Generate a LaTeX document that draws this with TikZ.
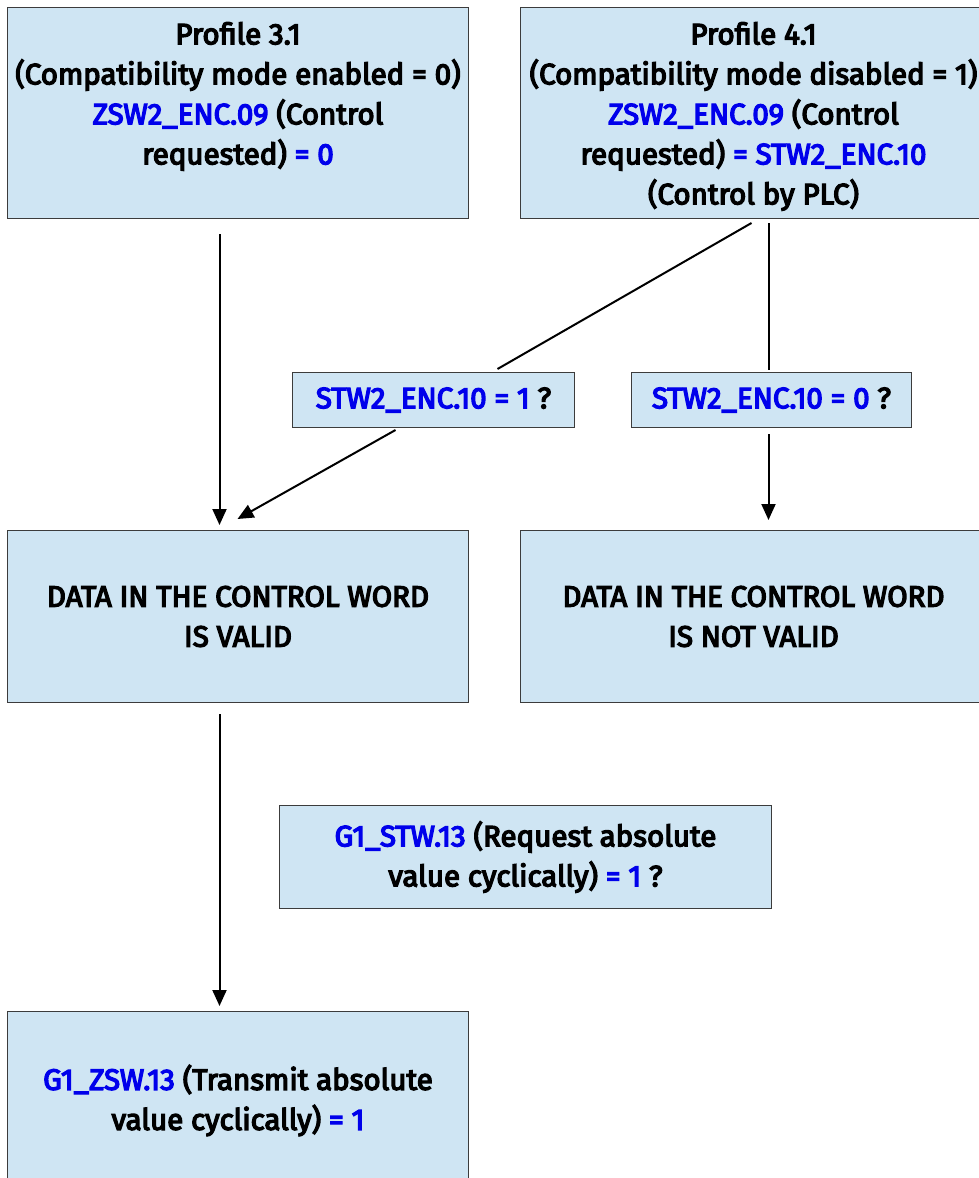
\documentclass[tikz,border=0pt]{standalone}
\usepackage{fontspec}
\setmainfont{Fira Sans}[FakeBold=4.5]
\usetikzlibrary{arrows.meta,calc}
\definecolor{boxfill}{RGB}{207,229,243}
\definecolor{boxline}{RGB}{60,60,60}
\definecolor{bluetxt}{RGB}{0,0,235}
\newcommand{\bl}[1]{\textcolor{bluetxt}{#1}}
\newcommand{\fs}{\fontsize{29.5}{40}\selectfont}
\begin{document}
\begin{tikzpicture}[x=1pt,y=-1pt,
  box/.style={draw=boxline, line width=1pt, fill=boxfill, inner sep=0pt, anchor=north west, align=center, font=\fs},
  txt/.style={align=center, font=\fs, inner sep=0pt, anchor=north},
  conn/.style={line width=2pt},
  arr/.style={conn, -{Triangle[width=14pt,length=16pt]}}]
\useasboundingbox[fill=white] (0,0) rectangle (978,1178);
% top boxes
\node[box, minimum width=461pt, minimum height=211pt] (A) at (7,7) {};
\node[txt] (At) at ([yshift=-15pt]A.north) {Profile 3.1\\(Compatibility mode enabled = 0)\\\bl{ZSW2\_ENC.09} (Control\\requested) \bl{= 0}};
\node[box, minimum width=466pt, minimum height=211pt] (B) at (520,7) {};
\node[txt] (Bt) at ([yshift=-15pt]B.north) {Profile 4.1\\(Compatibility mode disabled = 1)\\\bl{ZSW2\_ENC.09} (Control\\requested) \bl{= STW2\_ENC.10}\\(Control by PLC)};
% condition boxes
\node[box, minimum width=282pt, minimum height=55pt] (C) at (292,372) {\bl{STW2\_ENC.10 = 1} ?};
\node[box, minimum width=280pt, minimum height=55pt] (D) at (631,372) {\bl{STW2\_ENC.10 = 0} ?};
% data boxes
\node[box, minimum width=461pt, minimum height=172pt] (E) at (7,530) {DATA IN THE CONTROL WORD\\IS VALID};
\node[box, minimum width=466pt, minimum height=172pt] (F) at (520,530) {DATA IN THE CONTROL WORD\\IS NOT VALID};
% request box
\node[box, minimum width=492pt, minimum height=103pt] (G) at (279,805) {\bl{G1\_STW.13} (Request absolute\\value cyclically) \bl{= 1} ?};
% transmit box
\node[box, minimum width=461pt, minimum height=178pt] (H) at (7,1011) {\bl{G1\_ZSW.13} (Transmit absolute\\value cyclically) \bl{= 1}};
% connectors
\draw[arr] ([xshift=-18.5pt,yshift=-15pt]A.south) -- ([xshift=-18.5pt,yshift=5pt]E.north);
\draw[conn] ([xshift=-2pt,yshift=-4pt]B.south) -- ([xshift=64pt,yshift=3pt]C.north);
\draw[conn] ([xshift=15pt,yshift=-4pt]B.south) -- ([xshift=-3pt,yshift=2pt]D.north);
\draw[arr] ([xshift=-38pt,yshift=-2pt]C.south) -- ([xshift=-0.5pt,yshift=11pt]E.north);
\draw[arr] ([xshift=-3pt,yshift=-6pt]D.south) -- ([xshift=15pt,yshift=10pt]F.north);
\draw[arr] ([xshift=-18.5pt,yshift=-11pt]E.south) -- ([xshift=-18.5pt,yshift=5pt]H.north);
\end{tikzpicture}
\end{document}
